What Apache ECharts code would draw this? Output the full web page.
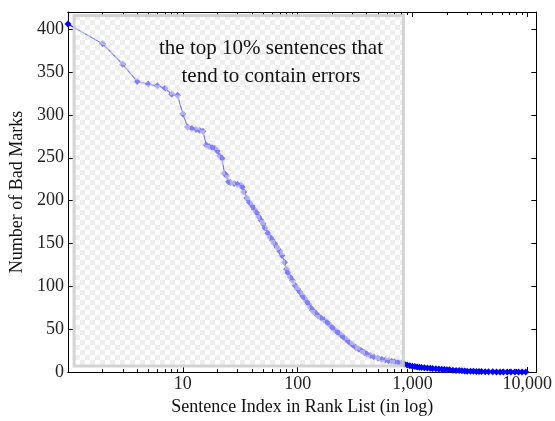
<!DOCTYPE html>
<html>
<head>
<meta charset="utf-8">
<script src="https://cdn.jsdelivr.net/npm/echarts@6/dist/echarts.min.js"></script>
<style>html,body{margin:0;padding:0;background:#fff;}#c{width:555px;height:421px;}</style>
</head>
<body>
<div id="c"></div>
<script>
// ---- data ----
const rankIndex = [1,2,3,4,5,6,7,8,9,10,11,12,13,14,15,16,17,18,19,20,21,22,23,24,25,26,28,30,32,33,34,36,38,40,42,44,46,48,50,52,55,58,60,63,66,70,73,77,80,82,86,90,95,
  100,105,110,115,120,125,130,135,140,145,150,160,170,180,190,200,210,220,230,240,250,265,280,300,320,340,360,380,400,430,460,500,540,580,620,660,700,750,800,850,900,950,
  1000,1050,1100,1150,1200,1270,1350,1430,1500,1600,1700,1800,1900,2000,2100,2250,2400,2550,2700,2850,3000,3200,3400,3600,3800,4000,4300,4600,5000,5400,5800,6200,6700,7200,7800,8400,9000,9700];
const badMarks = [406,383,359,339,336,334,331,324,323,301,286,284,283,282,281,265,263,262,261,258,252,249,232,229,222,221,220,219,218,216,210,203,198,194,190,186,181,177,173,168,162,157,154,150,146,141,136,128,120,116,111,107,101,
  97,93,89,86,82,79,75,72,70,68,66,63,61,58,55,52,49,47,45,43,41,38,35,32,29,27,25,23,21,19.5,18,16.5,15,14,13.3,12.6,12,11.3,10.6,9.5,8.3,7.4,
  6.8,6.4,6,5.7,5.4,5.1,4.8,4.5,4.2,3.9,3.6,3.3,3,2.8,2.6,2.3,2,1.8,1.6,1.35,1.1,1,0.9,0.8,0.7,0.6,0.5,0.4,0.3,0.25,0.2,0.2,0.15,0.1,0.1,0.05,0,0];
const xMajorTicks = [10,100,1000,10000];
const xMinorTicks = [2,3,4,5,6,7,8,9,20,30,40,50,60,70,80,90,200,300,400,500,600,700,800,900,2000,3000,4000,5000,6000,7000,8000,9000];
const yTicks = [0,50,100,150,200,250,300,350,400];
const topBoxX = [1.13, 835];
const topBoxY = [7, 416];
const boxText = ['the top 10% sentences that', 'tend to contain errors'];

const seriesData = rankIndex.map((x, i) => [x, badMarks[i]]);

// checker pattern for the translucent box
const pc = document.createElement('canvas');
pc.width = 10; pc.height = 10;
const g = pc.getContext('2d');
g.fillStyle = 'rgba(255,255,255,0.5)';
g.fillRect(0, 0, 10, 10);
g.fillStyle = 'rgba(222,222,222,0.5)';
g.fillRect(0, 0, 5, 5);
g.fillRect(5, 5, 5, 5);

const serif = '"Liberation Serif", "DejaVu Serif", serif';
const fmt = v => Number(v).toLocaleString('en-US');

const chart = echarts.init(document.getElementById('c'), null, {renderer: 'canvas'});
const xBase = {
  type: 'log', logBase: 10, min: 1, max: 12000,
  axisLine: {show: true, lineStyle: {color: '#000', width: 1}},
  splitLine: {show: false}
};
chart.setOption({
  animation: false,
  backgroundColor: '#fff',
  grid: {left: 68, right: 18, top: 12, bottom: 38},
  xAxis: [
    Object.assign({}, xBase, {
      position: 'bottom',
      name: 'Sentence Index in Rank List (in log)',
      nameLocation: 'middle', nameGap: 19,
      nameTextStyle: {fontFamily: serif, fontSize: 18, color: '#111'},
      axisTick: {show: true, inside: true, length: 5, customValues: xMajorTicks, lineStyle: {color: '#000'}},
      axisLabel: {show: true, customValues: xMajorTicks, formatter: fmt, margin: 3, fontFamily: serif, fontSize: 18, color: '#222'}
    }),
    Object.assign({}, xBase, {
      position: 'bottom',
      axisTick: {show: true, inside: true, length: 3, customValues: xMinorTicks, lineStyle: {color: '#000'}},
      axisLabel: {show: false}
    }),
    Object.assign({}, xBase, {
      position: 'top',
      axisTick: {show: true, inside: true, length: 5, customValues: xMajorTicks, lineStyle: {color: '#000'}},
      axisLabel: {show: false}
    }),
    Object.assign({}, xBase, {
      position: 'top',
      axisTick: {show: true, inside: true, length: 3, customValues: xMinorTicks, lineStyle: {color: '#000'}},
      axisLabel: {show: false}
    })
  ],
  yAxis: [
    {
      type: 'value', min: 0, max: 420, position: 'left',
      name: 'Number of Bad Marks', nameLocation: 'middle', nameGap: 41, nameRotate: 90,
      nameTextStyle: {fontFamily: serif, fontSize: 18, color: '#111'},
      axisLine: {show: true, lineStyle: {color: '#000', width: 1}},
      axisTick: {show: true, inside: true, length: 5, customValues: yTicks, lineStyle: {color: '#000'}},
      axisLabel: {customValues: yTicks, margin: 4, fontFamily: serif, fontSize: 18, color: '#222'},
      splitLine: {show: false}
    },
    {
      type: 'value', min: 0, max: 420, position: 'right',
      axisLine: {show: true, lineStyle: {color: '#000', width: 1}},
      axisTick: {show: true, inside: true, length: 5, customValues: yTicks, lineStyle: {color: '#000'}},
      axisLabel: {show: false},
      splitLine: {show: false}
    }
  ],
  series: [
    {
      type: 'line', xAxisIndex: 0, yAxisIndex: 0, z: 2,
      data: seriesData,
      symbol: 'diamond', symbolSize: 7,
      showAllSymbol: true,
      clip: false,
      lineStyle: {color: '#0000ff', width: 1.3},
      itemStyle: {color: '#0000ff'}
    },
    {
      type: 'custom', xAxisIndex: 0, yAxisIndex: 0, z: 10, clip: false,
      data: [[topBoxX[0], topBoxY[0], topBoxX[1], topBoxY[1]]],
      renderItem: function (params, api) {
        const p0 = api.coord([api.value(0), api.value(3)]);
        const p1 = api.coord([api.value(2), api.value(1)]);
        return {
          type: 'rect',
          shape: {x: p0[0], y: p0[1], width: p1[0] - p0[0], height: p1[1] - p0[1]},
          style: {fill: {image: pc, repeat: 'repeat'}, stroke: 'rgba(205,205,205,0.85)', lineWidth: 3}
        };
      }
    }
  ],
  graphic: [
    {type: 'text', x: 271, y: 48, z: 20, style: {text: boxText[0], font: '21px ' + serif, fill: '#111', textAlign: 'center', textVerticalAlign: 'middle'}},
    {type: 'text', x: 271, y: 76, z: 20, style: {text: boxText[1], font: '21px ' + serif, fill: '#111', textAlign: 'center', textVerticalAlign: 'middle'}}
  ]
});
</script>
</body>
</html>
